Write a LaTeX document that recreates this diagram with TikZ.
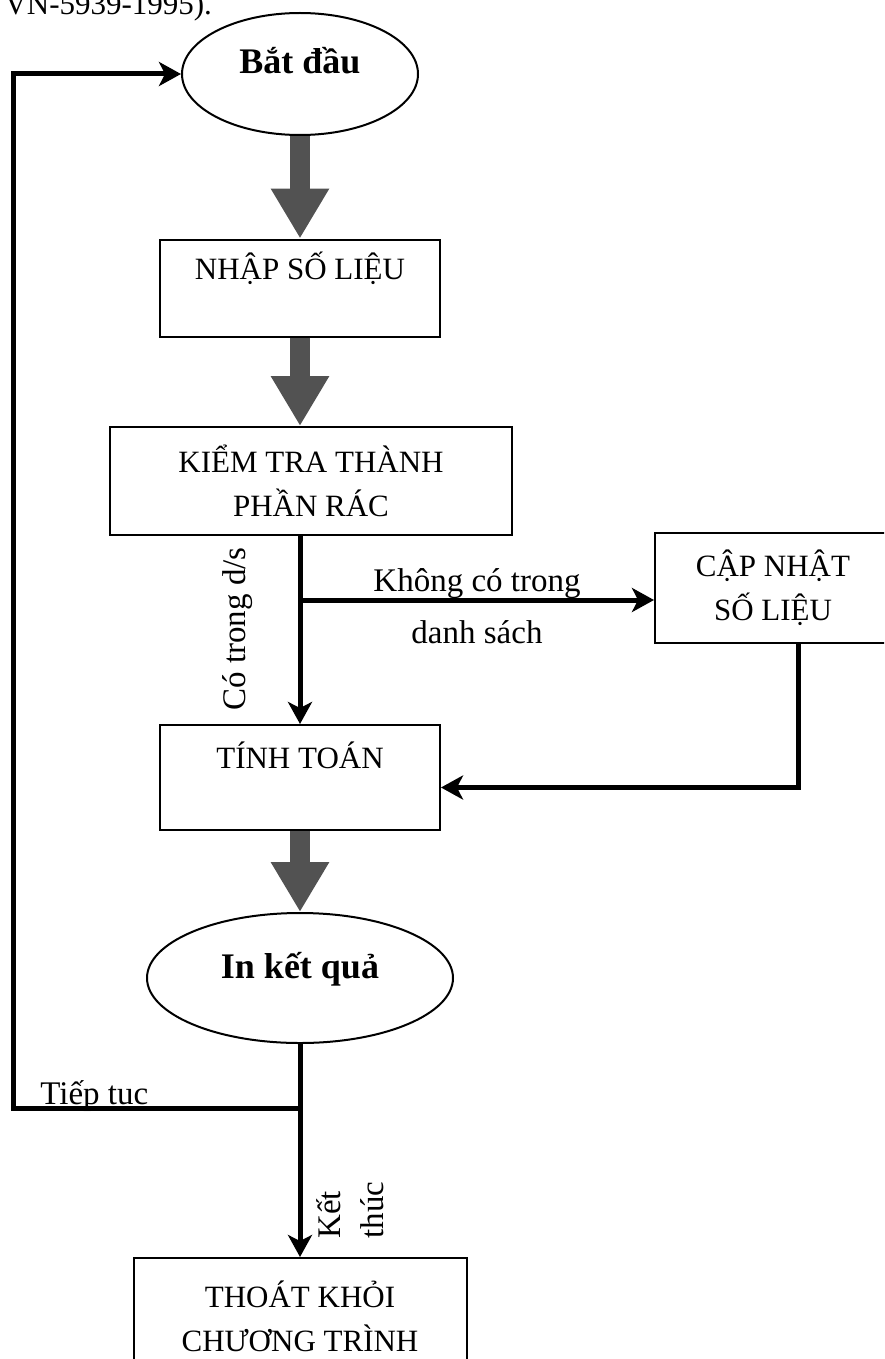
\documentclass[tikz,border=0pt]{standalone}
\usepackage{fontspec}
\setmainfont{Liberation Serif}
\usetikzlibrary{arrows.meta,shapes.geometric}
\begin{document}
\begin{tikzpicture}[x=0.5pt,y=-0.5pt,
    procbox/.style={draw,line width=1pt,rectangle,align=center,inner sep=0pt,
      font=\fontsize{15.5}{22}\selectfont},
    oval/.style={draw,line width=1pt,ellipse,inner sep=0pt,
      text height=15pt,text depth=15pt,font=\fontsize{18}{22}\selectfont\bfseries},
    flow/.style={line width=2.5pt,-{Stealth[length=11pt,width=12pt,inset=3pt]}},
    fatarrow/.style={line width=10pt,black!68,-{Triangle[length=25pt,width=27.5pt]}},
    note/.style={inner sep=0pt,font=\fontsize{16.5}{21.5}\selectfont}]
  \useasboundingbox (0,0) rectangle (884,1359);
  \clip (0,0) rectangle (884,1359);
  % khung
  \node[procbox,draw=none,anchor=base east] (chuthich) at (213,15) {VN-5939-1995).};
  \node[oval,minimum width=118pt,minimum height=61pt] (batdau) at (300,74) {Bắt đầu};
  \node[procbox,minimum width=140pt,minimum height=48.5pt] (nhap) at (300,288) {NHẬP SỐ LIỆU\\~};
  \node[procbox,minimum width=201pt,minimum height=54pt] (kiemtra) at (311,481) {KIỂM TRA THÀNH\\PHẦN RÁC};
  \node[procbox,minimum width=118pt,minimum height=55pt] (capnhat) at (773,588) {CẬP NHẬT\\SỐ LIỆU};
  \node[procbox,minimum width=140pt,minimum height=52.5pt] (tinhtoan) at (300,777.5) {TÍNH TOÁN\\~};
  \node[oval,minimum width=153pt,minimum height=65pt] (inkq) at (300,978) {In kết quả};
  \node[procbox,minimum width=166.5pt,minimum height=58.5pt] (thoat) at (300,1316.5) {THOÁT KHỎI\\CHƯƠNG TRÌNH};
  % nhan
  \node[note,rotate=90,anchor=north west] (cotrong) at (222,711) {Có trong d/s};
  \node[note,anchor=base] (khongco) at (477,591) {Không có trong};
  \node[note,anchor=base] (danhsach) at (477,643) {danh sách};
  \node[note,anchor=base west] (tieptucnhan) at (40,1104) {Tiếp tục};
  \node[note,rotate=90,anchor=north west,align=left] (ketthuc) at (316,1239) {Kết\\thúc};
  \coordinate (re) at (300,600);
  \coordinate (ve) at (798,643);
  \coordinate (tieptuc) at (300,1108);
  \coordinate (goc) at (13,1108);
  % mui ten
  \draw[fatarrow] (batdau.south) -- (nhap.north);
  \draw[fatarrow] (nhap.south) -- (nhap.south |- kiemtra.north);
  \draw[fatarrow] (tinhtoan.south) -- (inkq.north);
  \draw[flow] (nhap.south |- kiemtra.south) -- (tinhtoan.north);
  \draw[flow] (re) -- (re -| capnhat.west);
  \draw[flow] (ve) |- ([yshift=-5pt]tinhtoan.east);
  \draw[flow] (inkq.south) -- (thoat.north);
  \draw[flow] (tieptuc) -- (goc) |- (batdau.west);
\end{tikzpicture}
\end{document}
